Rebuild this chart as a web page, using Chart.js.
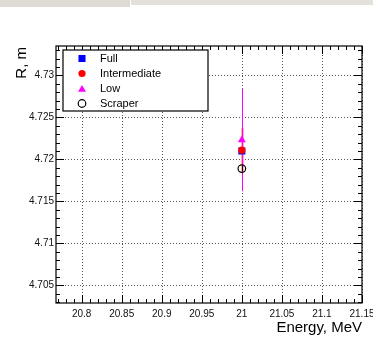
<!DOCTYPE html>
<html>
<head>
<meta charset="utf-8">
<script src="https://cdn.jsdelivr.net/npm/chart.js@4.4.1/dist/chart.umd.min.js"></script>
<style>
html, body { margin: 0; padding: 0; background: #fff; }
#wrap { position: relative; width: 373px; height: 349px; overflow: hidden; }
.strip { position: absolute; top: 0; }
#chart { position: absolute; left: 0; top: 0; }
</style>
</head>
<body>
<div id="wrap">
  <div class="strip" style="left:0;width:130px;height:7px;background:#dedad4"></div>
  <div class="strip" style="left:131px;width:242px;height:5px;background:#e4e1dc"></div>
  <canvas id="chart" width="373" height="349"></canvas>
</div>
<script>
// beam radius vs energy, one point per scraper setting
const seriesNames = ["Full", "Intermediate", "Low", "Scraper"];
const energy = [21, 21, 21, 21];
const radius = [4.7210, 4.7211, 4.7223, 4.7189];
const radiusErr = [0.0004, 0.0026, 0.0061, 0.0003];

const xTicks = [20.8, 20.85, 20.9, 20.95, 21, 21.05, 21.1, 21.15];
const xTickLabels = ["20.8", "20.85", "20.9", "20.95", "21", "21.05", "21.1", "21.15"];
const yTicks = [4.705, 4.71, 4.715, 4.72, 4.725, 4.73];
const yTickLabels = ["4.705", "4.71", "4.715", "4.72", "4.725", "4.73"];

const xRange = [20.768, 21.15];
const yRange = [4.7029, 4.7335];

const colors = ["#0000ff", "#ff0000", "#ff00ff", "#000000"];
const styles = [
    { pointStyle: "rect", radius: 5, fill: true },
    { pointStyle: "circle", radius: 3.6, fill: true },
    { pointStyle: "triangle", radius: 4.6, fill: true },
    { pointStyle: "circle", radius: 3.8, fill: false }
];

const FONT = '"Liberation Sans", Arial, sans-serif';

function strokeLine(ctx, x1, y1, x2, y2) {
    ctx.beginPath();
    ctx.moveTo(x1, y1);
    ctx.lineTo(x2, y2);
    ctx.stroke();
}

const framePlugin = {
    id: "frame",
    beforeDatasetsDraw(chart) {
        const { ctx, chartArea: a, scales: { x, y } } = chart;
        ctx.save();

        // dotted grid on the major ticks
        ctx.strokeStyle = "#555";
        ctx.lineWidth = 1;
        ctx.setLineDash([1, 2]);
        xTicks.forEach(v => {
            const px = Math.round(x.getPixelForValue(v)) + 0.5;
            strokeLine(ctx, px, a.top, px, a.bottom);
        });
        yTicks.forEach(v => {
            const py = Math.round(y.getPixelForValue(v)) + 0.5;
            strokeLine(ctx, a.left, py, a.right, py);
        });
        ctx.setLineDash([]);

        // error bars
        const widths = [1, 1.6, 1, 1];
        [0, 1, 2, 3].forEach(i => {
            const px = Math.round(x.getPixelForValue(energy[i])) + 0.5;
            ctx.strokeStyle = colors[i];
            ctx.lineWidth = widths[i];
            strokeLine(ctx, px, y.getPixelForValue(radius[i] + radiusErr[i]),
                px, y.getPixelForValue(radius[i] - radiusErr[i]));
        });
        ctx.restore();
    },
    afterDatasetsDraw(chart) {
        const { ctx, chartArea: a, scales: { x, y } } = chart;
        ctx.save();

        // frame
        ctx.strokeStyle = "#000";
        ctx.lineWidth = 1.2;
        ctx.strokeRect(a.left, a.top, a.right - a.left, a.bottom - a.top);

        // major and minor ticks on all four sides
        ctx.lineWidth = 1;
        for (let k = 0; k <= 38; k++) {
            const v = 20.77 + k * 0.01;
            if (v > xRange[1] + 1e-9) break;
            const px = Math.round(x.getPixelForValue(v)) + 0.5;
            const major = Math.abs(Math.round(v * 20) - v * 20) < 1e-6;
            const len = major ? 8 : 4;
            strokeLine(ctx, px, a.bottom, px, a.bottom - len);
            strokeLine(ctx, px, a.top, px, a.top + len);
        }
        for (let k = 0; k <= 31; k++) {
            const v = 4.703 + k * 0.001;
            if (v > yRange[1]) break;
            const py = Math.round(y.getPixelForValue(v)) + 0.5;
            const major = Math.abs(Math.round(v * 200) - v * 200) < 1e-6;
            const len = major ? 8 : 4;
            strokeLine(ctx, a.left, py, a.left + len, py);
            strokeLine(ctx, a.right, py, a.right - len, py);
        }

        // axis titles
        ctx.fillStyle = "#000";
        ctx.font = "15px " + FONT;
        ctx.textAlign = "right";
        ctx.textBaseline = "alphabetic";
        ctx.fillText("Energy, MeV", a.right, 332);
        ctx.save();
        ctx.translate(25.5, 47);
        ctx.rotate(-Math.PI / 2);
        ctx.fillText("R, m", 0, 0);
        ctx.restore();

        // legend box
        const box = { left: 63, top: 50, right: 208, bottom: 111 };
        ctx.fillStyle = "#fff";
        ctx.fillRect(box.left, box.top, box.right - box.left, box.bottom - box.top);
        ctx.strokeStyle = "#000";
        ctx.lineWidth = 1.2;
        ctx.strokeRect(box.left, box.top, box.right - box.left, box.bottom - box.top);

        ctx.font = "11px " + FONT;
        ctx.textAlign = "left";
        ctx.textBaseline = "middle";
        seriesNames.forEach((name, i) => {
            const ly = 58.5 + i * 15;
            const s = styles[i];
            ctx.fillStyle = s.fill ? colors[i] : "rgba(0,0,0,0)";
            ctx.strokeStyle = colors[i];
            Chart.helpers.drawPoint(ctx, {
                pointStyle: s.pointStyle,
                radius: s.radius,
                rotation: 0,
                borderWidth: s.fill ? 0 : 1.2
            }, 82, ly + (s.pointStyle === "triangle" ? 1 : 0));
            ctx.fillStyle = "#000";
            ctx.fillText(name, 100, ly);
        });

        ctx.restore();
    }
};

const datasets = seriesNames.map((name, i) => ({
    label: name,
    data: [{ x: energy[i], y: radius[i] }],
    pointStyle: styles[i].pointStyle,
    pointRadius: styles[i].radius,
    pointHoverRadius: styles[i].radius,
    backgroundColor: styles[i].fill ? colors[i] : "rgba(0,0,0,0)",
    borderColor: colors[i],
    pointBorderWidth: styles[i].fill ? 0 : 1.2,
    order: 4 - i
}));

const tickFont = { family: FONT, size: 10 };

new Chart(document.getElementById("chart").getContext("2d"), {
    type: "scatter",
    data: { datasets: datasets },
    options: {
        responsive: false,
        animation: false,
        events: [],
        layout: { padding: { left: 0, right: 11, top: 46, bottom: 0 } },
        plugins: { legend: { display: false }, tooltip: { enabled: false } },
        scales: {
            x: {
                type: "linear",
                min: xRange[0],
                max: xRange[1],
                grid: { display: false, drawTicks: false },
                border: { display: false },
                afterBuildTicks: scale => { scale.ticks = xTicks.map(v => ({ value: v })); },
                afterFit: scale => {
                    scale.height = 46;
                    scale.paddingLeft = 0;
                    scale.paddingRight = 0;
                },
                ticks: {
                    autoSkip: false,
                    maxRotation: 0,
                    padding: 5,
                    color: "#111",
                    font: tickFont,
                    callback: (v, i) => xTickLabels[i]
                }
            },
            y: {
                type: "linear",
                min: yRange[0],
                max: yRange[1],
                grid: { display: false, drawTicks: false },
                border: { display: false },
                afterBuildTicks: scale => { scale.ticks = yTicks.map(v => ({ value: v })); },
                afterFit: scale => {
                    scale.width = 56;
                    scale.paddingTop = 0;
                    scale.paddingBottom = 0;
                },
                ticks: {
                    autoSkip: false,
                    padding: 2,
                    color: "#111",
                    font: tickFont,
                    callback: (v, i) => yTickLabels[i]
                }
            }
        }
    },
    plugins: [framePlugin]
});
</script>
</body>
</html>
